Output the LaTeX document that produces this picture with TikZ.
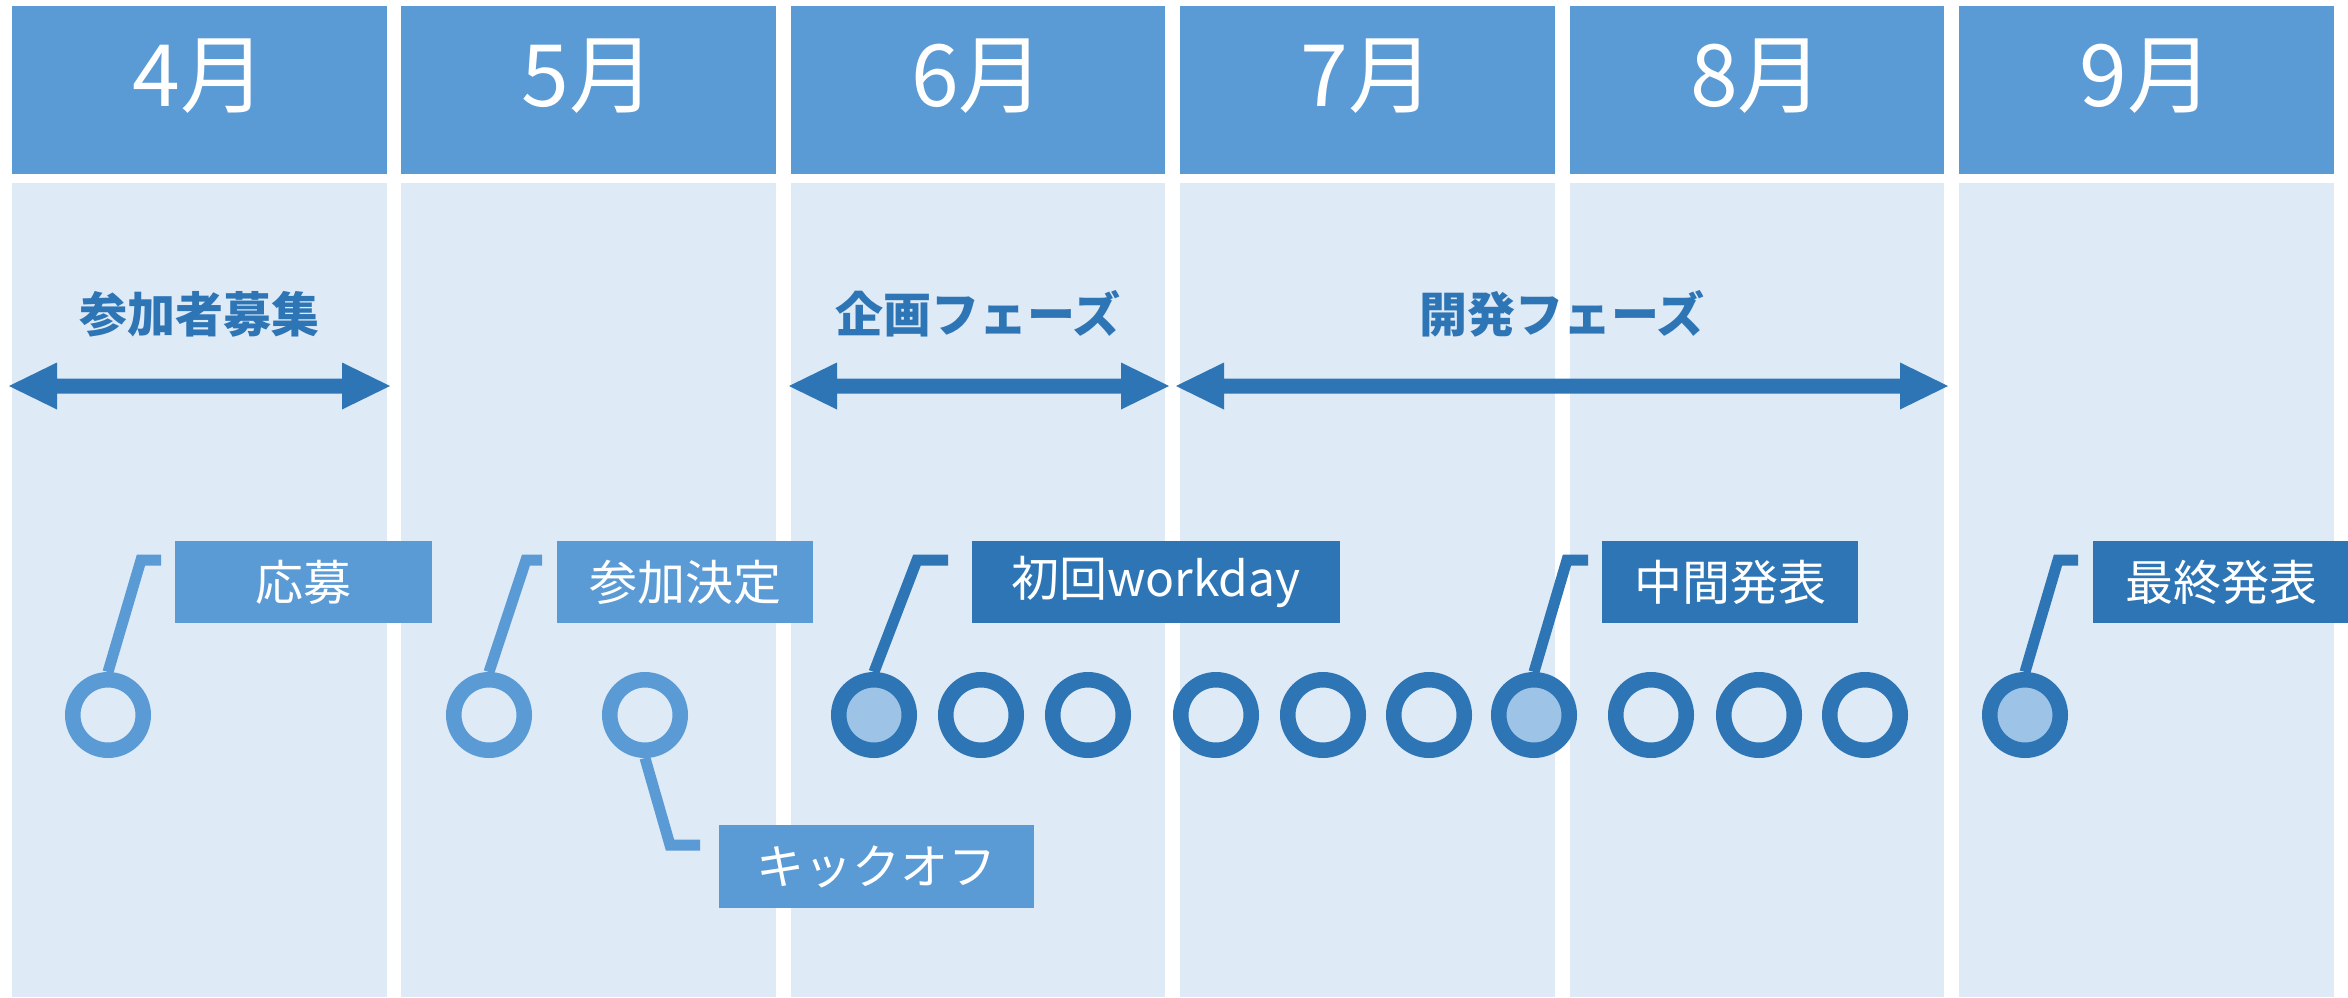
\documentclass[tikz,border=0pt]{standalone}
\usepackage{fontspec}
\setmainfont{Noto Sans CJK JP}
\definecolor{hdrc}{HTML}{5B9BD5}
\definecolor{bodyc}{HTML}{DEEAF6}
\definecolor{dkc}{HTML}{2E75B6}
\definecolor{ltfill}{HTML}{9DC3E6}
\newcommand\phasearrow[3]{%
  \fill[#3] (#1,386) -- ({#1+48},362.5) -- ({#1+48},378.5) -- ({#2-48},378.5) -- ({#2-48},362.5)
   -- (#2,386) -- ({#2-48},409.5) -- ({#2-48},393.5) -- ({#1+48},393.5) -- ({#1+48},409.5) -- cycle;}
\begin{document}
\begin{tikzpicture}[x=1pt,y=-1pt,
  hdr/.style={fill=hdrc, minimum width=374.5pt, minimum height=168pt, inner sep=0pt},
  colbody/.style={fill=bodyc, minimum width=374.5pt, minimum height=814pt, inner sep=0pt},
  hdrtext/.style={text=white, font=\fontsize{86}{100}\selectfont, inner sep=0pt},
  phase/.style={text=dkc, font=\fontsize{48}{58}\selectfont\bfseries, inner sep=0pt},
  ring/.style={circle, draw=#1, line width=15.5pt, minimum size=70.5pt, inner sep=0pt, fill=bodyc},
  ringf/.style={ring=#1, fill=ltfill},
  callout/.style={draw=#1, line width=11pt, line join=miter},
  lbl/.style={fill=#1, text=white, minimum height=82pt, inner sep=0pt, font=\fontsize{48}{58}\selectfont}]
\fill[white] (0,0) rectangle (2348,997);
\useasboundingbox (0,0) rectangle (2348,997);
% columns
\foreach \i/\m in {0/4,1/5,2/6,3/7,4/8,5/9}{
  \node[hdr] (h\m) at ({199.25+389.4*\i},90) {};
  \node[colbody] (c\m) at ({199.25+389.4*\i},590) {};
  \node[hdrtext] (t\m) at ({199.25+389.4*\i},76) {\m 月};
}
% phases
\node[phase] (p1) at (199,314) {参加者募集};
\node[phase] (p2) at (978,314) {企画フェーズ};
\node[phase] (p3) at (1562,314) {開発フェーズ};
\phasearrow{9}{390}{dkc}
\phasearrow{789}{1169}{dkc}
\phasearrow{1176}{1948}{dkc}
% milestones
\node[ring=hdrc] (m1) at (108,715) {};
\node[ring=hdrc] (m2) at (489,715) {};
\node[ring=hdrc] (m3) at (645,715) {};
\node[ringf=dkc] (m4) at (874,715) {};
\node[ring=dkc] (m5) at (981,715) {};
\node[ring=dkc] (m6) at (1088,715) {};
\node[ring=dkc] (m7) at (1216,715) {};
\node[ring=dkc] (m8) at (1323,715) {};
\node[ring=dkc] (m9) at (1429,715) {};
\node[ringf=dkc] (m10) at (1534,715) {};
\node[ring=dkc] (m11) at (1651,715) {};
\node[ring=dkc] (m12) at (1759,715) {};
\node[ring=dkc] (m13) at (1865,715) {};
\node[ringf=dkc] (m14) at (2025,715) {};
% labels
\node[lbl=hdrc, minimum width=257pt] (b1) at (303.5,582) {応募};
\node[lbl=hdrc, minimum width=256pt] (b2) at (685,582) {参加決定};
\node[lbl=hdrc, minimum width=315pt, minimum height=83pt] (b3) at (876.5,866.5) {キックオフ};
\node[lbl=dkc, minimum width=368pt] (b4) at (1156,582) {初回workday};
\node[lbl=dkc, minimum width=256pt] (b5) at (1730,582) {中間発表};
\node[lbl=dkc, minimum width=256pt] (b6) at (2221,582) {最終発表};
% callout lines
\coordinate (e1) at (161,560);
\coordinate (e2) at (542,560);
\coordinate (e3) at (700,845);
\coordinate (e4) at (948,560);
\coordinate (e5) at (1588,560);
\coordinate (e6) at (2078,560);
\draw[callout=hdrc] (m1.north) -- (141,560) -- (e1);
\draw[callout=hdrc] (m2.north) -- (526,560) -- (e2);
\draw[callout=hdrc] (m3.south) -- (670,845) -- (e3);
\draw[callout=dkc] (m4.north) -- (917,560) -- (e4);
\draw[callout=dkc] (m10.north) -- (1567,560) -- (e5);
\draw[callout=dkc] (m14.north) -- (2058,560) -- (e6);
\end{tikzpicture}
\end{document}
